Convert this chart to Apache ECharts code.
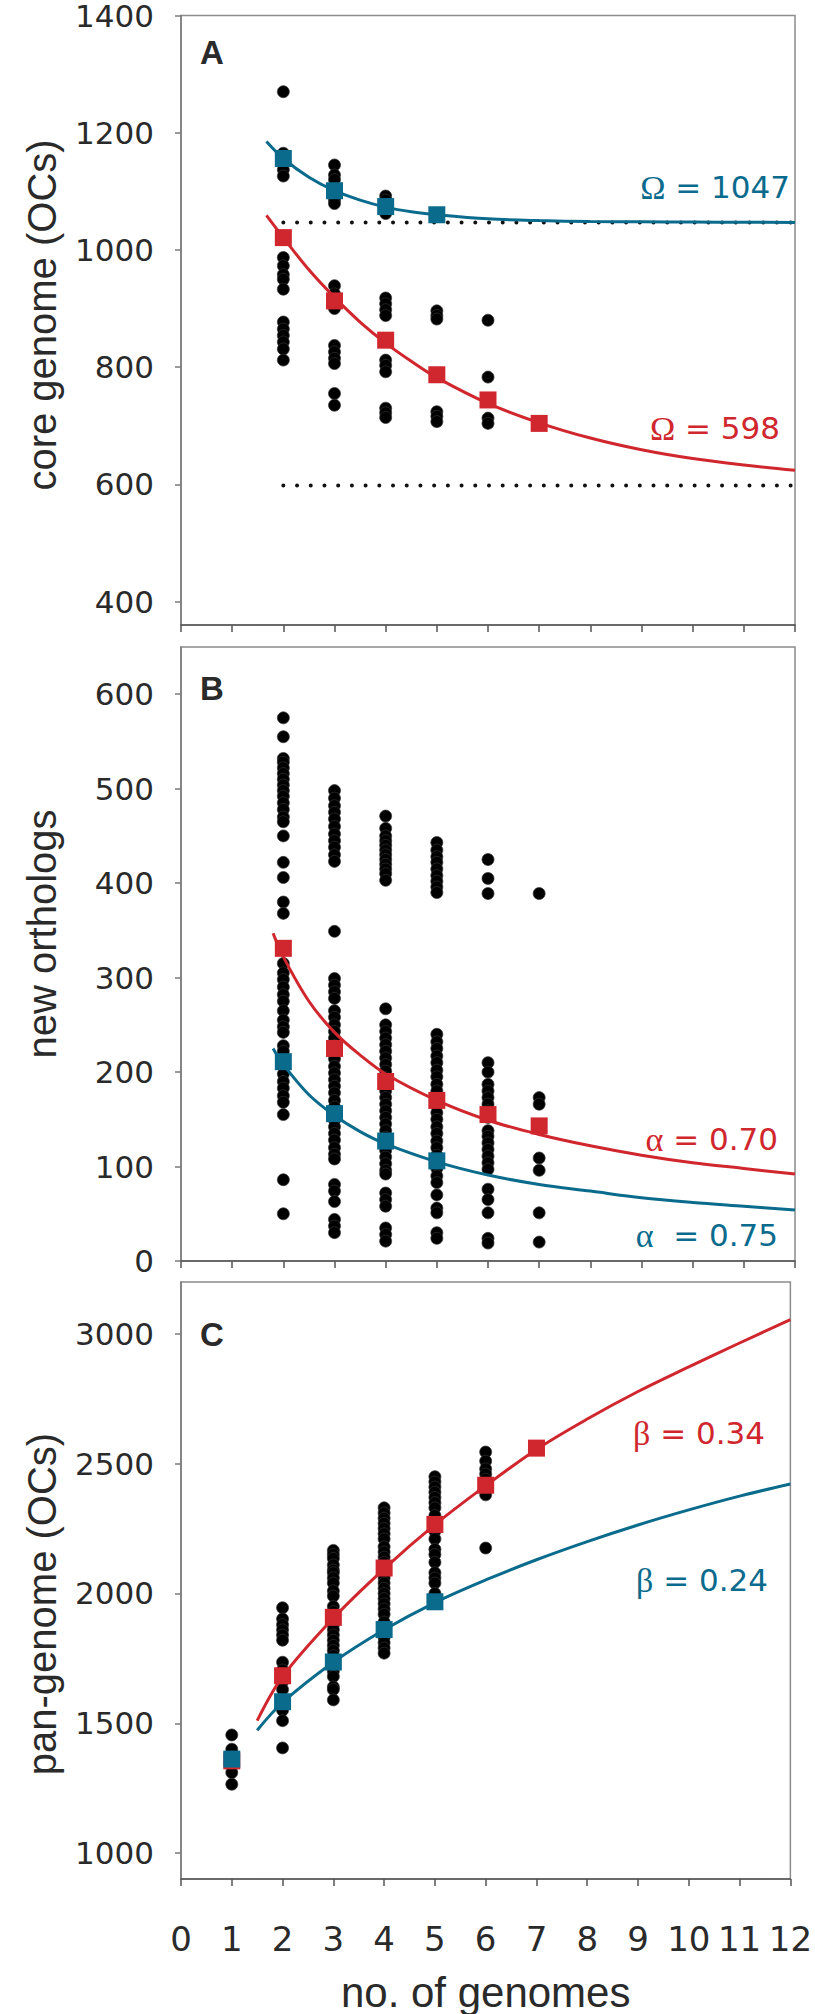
<!DOCTYPE html>
<html><head><meta charset="utf-8">
<script src="https://cdn.jsdelivr.net/npm/echarts@6/dist/echarts.min.js"></script>
<style>html,body{margin:0;padding:0;background:#fff}#c{width:815px;height:2014px}</style>
</head><body><div id="c"></div>
<script>
// ---------- data ----------
const xTicks = [0,1,2,3,4,5,6,7,8,9,10,11,12];
const coreTicks = [400,600,800,1000,1200,1400];
const newTicks = [0,100,200,300,400,500,600];
const panTicks = [1000,1500,2000,2500,3000];

// Panel A: core genome, black dots per number of genomes
const coreDotsN = [2,3,4,5,6];
const coreDots = [
  [1270,1165,1150,1137,1126,987,973,958,950,933,877,865,854,843,831,812],
  [1145,1128,1120,1095,1085,1079,939,925,900,837,826,815,806,755,735],
  [1092,1085,1075,1062,918,908,898,888,812,803,792,730,722,714],
  [896,888,882,724,716,707],
  [880,783,713,704]
];
const coreRedSqN = [2,3,4,5,6,7];
const coreRedSq = [1021,913,846,787,744,704];
const coreBlueSqN = [2,3,4,5];
const coreBlueSq = [1156,1101,1074,1060];
const coreFitX = [1.67,2,2.5,3,3.5,4,4.5,5,6,7,8,9,10,11,12];
const coreRedFit = [1059,1021,966,919,877,841,810,782,738,705,679,659,644,633,624];
const coreBlueFit = [1185,1156,1124,1101,1085,1073,1065,1060,1053,1050,1048.5,1048,1047.5,1047.2,1047];
const omegaX = [2,12];
const omegaRed = [598,598];
const omegaBlue = [1047,1047];

// Panel B: new orthologs
const newDotsN = [2,3,4,5,6,7];
const newDots = [
  [575,555,532,528,522,516,510,504,498,492,485,478,470,465,450,422,406,380,368,315,305,298,290,282,275,265,255,248,242,228,222,210,198,190,183,175,168,155,86,50],
  [498,490,482,475,468,460,452,445,438,430,423,349,299,292,285,278,265,258,250,243,236,228,221,214,206,199,192,185,178,170,163,156,149,142,135,128,120,113,108,81,74,63,44,37,30],
  [471,458,450,445,440,435,430,425,420,415,410,403,267,250,243,236,229,222,215,208,201,194,187,180,173,166,159,152,145,138,131,124,117,110,103,96,92,72,65,58,35,28,21],
  [443,435,428,422,415,408,402,396,390,240,232,225,217,210,202,195,187,180,172,165,157,150,142,135,127,120,112,105,98,90,83,70,56,51,30,24],
  [425,405,389,210,200,187,180,173,166,159,152,138,132,125,118,111,104,97,76,65,51,24,19],
  [389,173,166,109,96,51,20]
];
const newRedSqN = [2,3,4,5,6,7];
const newRedSq = [331,225,190,170,155,143];
const newBlueSqN = [2,3,4,5];
const newBlueSq = [211,156,127,106];
const newFitX = [1.8,2,2.5,3,3.5,4,5,6,7,8,9,10,11,12];
const newRedFit = [347,322,275,242,218,198,170,149,134,122,112,104,98,92];
const newBlueFit = [225,208,176,154,137,124,105,91,81,74,67,62,58,54];

// Panel C: pan-genome
const panDotsN = [1,2,3,4,5,6];
const panDots = [
  [1455,1400,1370,1340,1310,1265],
  [1945,1902,1880,1860,1840,1820,1735,1705,1660,1630,1550,1510,1405],
  [2166,2150,2135,2110,2090,2080,2060,2040,2010,1990,1950,1930,1880,1860,1840,1820,1800,1780,1760,1740,1700,1680,1640,1630,1590],
  [2330,2310,2290,2270,2250,2230,2210,2180,2160,2140,2120,2100,2080,2060,2040,2020,2000,1980,1960,1940,1920,1890,1870,1850,1830,1810,1790,1770],
  [2450,2430,2410,2390,2370,2350,2330,2300,2270,2240,2210,2170,2150,2120,2080,2060,2040,2000],
  [2545,2510,2480,2460,2440,2420,2400,2380,2175]
];
const panRedSqN = [1,2,3,4,5,6,7];
const panRedSq = [1355,1683,1908,2098,2266,2417,2560];
const panBlueSqN = [1,2,3,4,5];
const panBlueSq = [1362,1583,1736,1861,1968];
const panFitX = [1.5,2,3,4,5,6,7,8,9,10,11,12];
const panRedFit = [1510,1680,1905,2095,2265,2415,2555,2672,2778,2873,2965,3055];
const panBlueFit = [1473,1580,1735,1860,1965,2052,2130,2200,2264,2322,2375,2422];

const yTitles = ['core genome (OCs)','new orthologs','pan-genome (OCs)'];
const panelLetters = ['A','B','C'];
const xTitle = 'no. of genomes';

// ---------- styling ----------
const RED = '#d0262d';
const BLUE = '#0b6b8d';
const FONT = 'Liberation Sans, Arial, sans-serif';
const NUMFONT = 'DejaVu Sans, sans-serif';
const SERIF = 'Liberation Serif, Times New Roman, serif';
const AXC = '#555';
const TXT = '#2a2a2a';
const G = {left:181, width:614, height:614};
const tops = [11, 647, 1282];

function pairs(xs, ys){ return xs.map((x,i)=>[x, ys[i]]); }
function dotPairs(ns, cols){ const out=[]; ns.forEach((n,i)=>cols[i].forEach(v=>out.push([n,v]))); return out; }

const grids = tops.map(t => ({left:G.left, top:t, width:G.width, height:G.height, show:true, borderColor:'#8c8c8c', borderWidth:1.5, backgroundColor:'transparent'}));

const xAxes = [0,1,2].map(i => ({
  type:'value', gridIndex:i, min:0, max:12, interval:1,
  axisLine:{show:true, onZero:false, lineStyle:{color:AXC, width:1.5}},
  axisTick:{show:true, length:7, lineStyle:{color:AXC, width:1.5}},
  axisLabel:{show:i===2, margin:43, fontSize:34, color:TXT, fontFamily:NUMFONT, formatter:v=>String(v)},
  splitLine:{show:false},
  name: i===2 ? xTitle : '', nameLocation:'middle', nameGap:92,
  nameTextStyle:{fontSize:42, color:TXT, fontFamily:FONT}
}));

const yRanges = [[360,1400,coreTicks],[0,650,newTicks],[900,3200,panTicks]];
const yAxes = yRanges.map((r,i) => ({
  type:'value', gridIndex:i, min:r[0], max:r[1],
  axisLine:{show:true, lineStyle:{color:'#7a7a7a', width:1.5}},
  axisTick:{show:true, length:6, customValues:r[2], lineStyle:{color:'#7a7a7a', width:1.5}},
  axisLabel:{show:true, margin:27, fontSize:31, lineHeight:16, padding:[4,0,0,0], verticalAlign:'middle',
    color:TXT, fontFamily:NUMFONT, customValues:r[2], formatter:v=>String(v)},
  splitLine:{show:false}
}));

function dots(i, data){ return {type:'scatter', xAxisIndex:i, yAxisIndex:i, data, symbol:'circle', symbolSize:12, itemStyle:{color:'#000', opacity:1, borderColor:'#333', borderWidth:0.7}, z:2, silent:true}; }
function fit(i, data, color){ return {type:'line', xAxisIndex:i, yAxisIndex:i, data, smooth:0.35, showSymbol:false, symbol:'none', lineStyle:{color, width:3, opacity:1}, z:4, silent:true}; }
function sq(i, data, color){ return {type:'scatter', xAxisIndex:i, yAxisIndex:i, data, symbol:'rect', symbolSize:17, itemStyle:{color, opacity:1}, z:5, silent:true}; }
function dotted(i, data){ return {type:'line', xAxisIndex:i, yAxisIndex:i, data, showSymbol:false, symbol:'none', lineStyle:{color:'#111', width:4, type:[0.01,13.7], cap:'round'}, z:3, silent:true}; }

const series = [
  dots(0, dotPairs(coreDotsN, coreDots)),
  dotted(0, pairs(omegaX, omegaRed)),
  dotted(0, pairs(omegaX, omegaBlue)),
  fit(0, pairs(coreFitX, coreRedFit), RED),
  fit(0, pairs(coreFitX, coreBlueFit), BLUE),
  sq(0, pairs(coreRedSqN, coreRedSq), RED),
  sq(0, pairs(coreBlueSqN, coreBlueSq), BLUE),

  dots(1, dotPairs(newDotsN, newDots)),
  fit(1, pairs(newFitX, newRedFit), RED),
  fit(1, pairs(newFitX, newBlueFit), BLUE),
  sq(1, pairs(newRedSqN, newRedSq), RED),
  sq(1, pairs(newBlueSqN, newBlueSq), BLUE),

  dots(2, dotPairs(panDotsN, panDots)),
  fit(2, pairs(panFitX, panRedFit), RED),
  fit(2, pairs(panFitX, panBlueFit), BLUE),
  sq(2, pairs(panRedSqN, panRedSq), RED),
  sq(2, pairs(panBlueSqN, panBlueSq), BLUE)
];

function note(text, x, y, color){
  return {type:'text', z:10, x, y, style:{text, align:'right', verticalAlign:'middle', fill:color,
    rich:{g:{fontFamily:SERIF, fontSize:34, fill:color}, t:{fontFamily:NUMFONT, fontSize:31, fill:color}}}};
}
const graphics = [
  note('{g|\u03A9}{t| = 1047}', 790, 187, BLUE),
  note('{g|\u03A9}{t| = 598}', 780, 428, RED),
  note('{g|\u03B1}{t| = 0.70}', 778, 1139, RED),
  note('{g|\u03B1}{t|  = 0.75}', 778, 1235, BLUE),
  note('{g|\u03B2}{t| = 0.34}', 765, 1433, RED),
  note('{g|\u03B2}{t| = 0.24}', 768, 1580, BLUE)
];
const letterY = [52, 688, 1334];
const titleY = [315, 934, 1604];
tops.forEach((t,i)=>{
  graphics.push({type:'text', z:10, x:200, y:letterY[i], style:{text:panelLetters[i], font:'bold 33px '+FONT, fill:TXT, align:'left', verticalAlign:'middle'}});
  graphics.push({type:'text', z:10, x:42, y:titleY[i], rotation:Math.PI/2, style:{text:yTitles[i], font:'40px '+FONT, fill:TXT, align:'center', verticalAlign:'middle'}});
});

const chart = echarts.init(document.getElementById('c'), null, {renderer:'svg'});
chart.setOption({
  animation:false, backgroundColor:'#fff',
  grid:grids, xAxis:xAxes, yAxis:yAxes, series, graphic:graphics
});
</script></body></html>
